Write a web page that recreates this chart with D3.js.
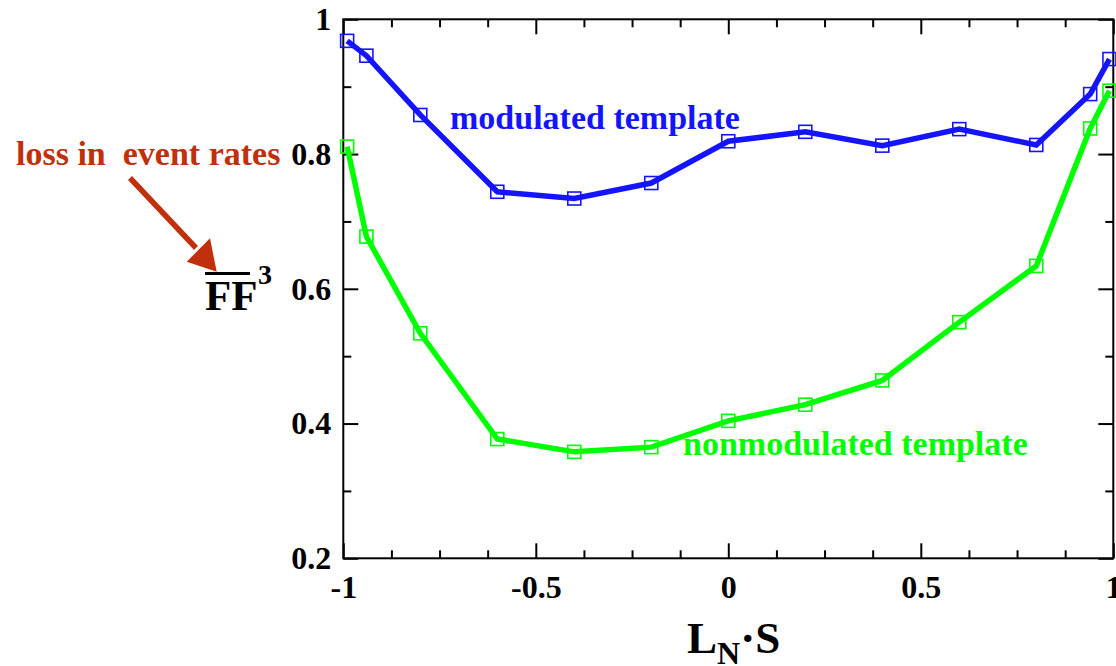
<!DOCTYPE html>
<html>
<head>
<meta charset="utf-8">
<script src="https://cdn.jsdelivr.net/npm/d3@7/dist/d3.min.js"></script>
<style>
html,body{margin:0;padding:0;background:#fff;}
svg{display:block;}
text{font-family:"Liberation Serif","Times New Roman",serif;font-weight:bold;}
</style>
</head>
<body>
<svg id="chart" width="1116" height="666"></svg>
<script>
// ---- data ----
const xValues = [-0.99, -0.94, -0.8, -0.6, -0.4, -0.2, 0, 0.2, 0.4, 0.6, 0.8, 0.94, 0.99];
const modulated = [0.968, 0.946, 0.858, 0.744, 0.734, 0.757, 0.819, 0.833, 0.8125, 0.837, 0.8135, 0.889, 0.941];
const nonmodulated = [0.811, 0.6775, 0.534, 0.377, 0.358, 0.365, 0.404, 0.428, 0.464, 0.5505, 0.634, 0.838, 0.894];
const xMajorTicks = [-1, -0.5, 0, 0.5, 1];
const xTickLabels = ["-1", "-0.5", "0", "0.5", "1"];
const yMajorTicks = [0.2, 0.4, 0.6, 0.8, 1];
const yTickLabels = ["0.2", "0.4", "0.6", "0.8", "1"];
const seriesNames = ["modulated template", "nonmodulated template"];

// ---- layout ----
const L = 343.3, R = 1113.3, T = 19.3, B = 558.3;
const svg = d3.select("#chart");
const x = d3.scaleLinear().domain([-1, 1]).range([L, R]);
const y = d3.scaleLinear().domain([0.2, 1]).range([B, T]);

const xMinor = d3.range(-1, 1.0001, 0.125).filter(v => !xMajorTicks.some(m => Math.abs(m - v) < 1e-6));
const yMinor = d3.range(0.3, 1, 0.2);

const tickFont = 32;
function styleAxis(g) {
  g.select(".domain").remove();
  g.selectAll(".tick line").attr("stroke", "#000").attr("stroke-width", 2);
  g.selectAll("text").attr("font-size", tickFont).attr("fill", "#000")
    .style("font-family", "'Liberation Serif','Times New Roman',serif").style("font-weight", "bold");
}

// bottom major with labels
svg.append("g").attr("transform", `translate(0,${B})`)
  .call(d3.axisBottom(x).tickValues(xMajorTicks).tickSize(-15).tickPadding(17)
    .tickFormat((d, i) => xTickLabels[i]))
  .call(styleAxis);
svg.append("g").attr("transform", `translate(0,${B})`)
  .call(d3.axisBottom(x).tickValues(xMinor).tickSize(-8).tickFormat(""))
  .call(styleAxis);
// top
svg.append("g").attr("transform", `translate(0,${T})`)
  .call(d3.axisTop(x).tickValues(xMajorTicks).tickSize(-15).tickFormat(""))
  .call(styleAxis);
svg.append("g").attr("transform", `translate(0,${T})`)
  .call(d3.axisTop(x).tickValues(xMinor).tickSize(-8).tickFormat(""))
  .call(styleAxis);
// left
svg.append("g").attr("transform", `translate(${L},0)`)
  .call(d3.axisLeft(y).tickValues(yMajorTicks).tickSize(-15).tickPadding(12)
    .tickFormat((d, i) => yTickLabels[i]))
  .call(styleAxis);
svg.append("g").attr("transform", `translate(${L},0)`)
  .call(d3.axisLeft(y).tickValues(yMinor).tickSize(-8).tickFormat(""))
  .call(styleAxis);
// right
svg.append("g").attr("transform", `translate(${R},0)`)
  .call(d3.axisRight(y).tickValues(yMajorTicks).tickSize(-15).tickFormat(""))
  .call(styleAxis);
svg.append("g").attr("transform", `translate(${R},0)`)
  .call(d3.axisRight(y).tickValues(yMinor).tickSize(-8).tickFormat(""))
  .call(styleAxis);

// frame
svg.append("rect").attr("x", L).attr("y", T).attr("width", R - L).attr("height", B - T)
  .attr("fill", "none").attr("stroke", "#000").attr("stroke-width", 2);

// series
const series = [
  {name: seriesNames[0], values: modulated, color: "#1414ff"},
  {name: seriesNames[1], values: nonmodulated, color: "#00ff00"}
];
const line = d3.line().x((d, i) => x(xValues[i])).y(d => y(d));
series.forEach(s => {
  svg.append("path").datum(s.values).attr("d", line)
    .attr("fill", "none").attr("stroke", s.color).attr("stroke-width", 5.5)
    .attr("stroke-linejoin", "miter");
  svg.append("g").selectAll("rect").data(s.values).join("rect")
    .attr("x", (d, i) => x(xValues[i]) - 6.5).attr("y", d => y(d) - 6.5)
    .attr("width", 13).attr("height", 13)
    .attr("fill", "none").attr("stroke", s.color).attr("stroke-width", 1.6);
});

// series labels
svg.append("text").attr("x", 450).attr("y", 129).attr("font-size", 34)
  .attr("fill", "#1414ff").text(seriesNames[0]);
svg.append("text").attr("x", 683).attr("y", 455).attr("font-size", 34)
  .attr("fill", "#00ff00").text(seriesNames[1]);

// x axis title L_N·S
const xt = svg.append("text").attr("x", 687).attr("y", 653).attr("font-size", 45).attr("fill", "#000");
xt.append("tspan").text("L");
xt.append("tspan").attr("font-size", 32).attr("dy", 11).text("N");
xt.append("tspan").attr("dy", -11).text("·S");

// y axis title FF^3 with overline
svg.append("text").attr("x", 205).attr("y", 310).attr("font-size", 43).attr("fill", "#000").text("FF");
svg.append("line").attr("x1", 205).attr("x2", 250).attr("y1", 273.5).attr("y2", 273.5)
  .attr("stroke", "#000").attr("stroke-width", 3);
svg.append("text").attr("x", 258).attr("y", 284).attr("font-size", 28).attr("fill", "#000").text("3");

// annotation
svg.append("text").attr("x", 16).attr("y", 165).attr("font-size", 34).attr("fill", "#c0300c")
  .style("white-space", "pre").text("loss in  event rates");
svg.append("line").attr("x1", 130).attr("y1", 178).attr("x2", 196).attr("y2", 248)
  .attr("stroke", "#c0300c").attr("stroke-width", 5.5);
svg.append("path").attr("d", "M186.7,261.7 L216.7,271.7 L210,238.3 Z").attr("fill", "#c0300c");
</script>
</body>
</html>
